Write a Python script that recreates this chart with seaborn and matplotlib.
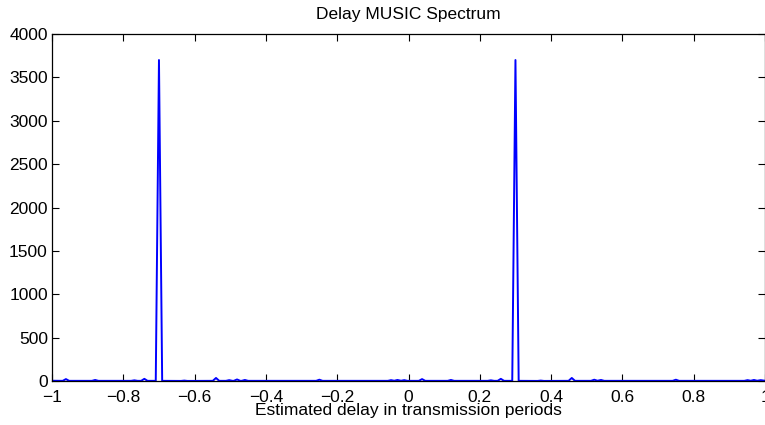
import matplotlib
matplotlib.use("Agg")
import matplotlib.pyplot as plt
import matplotlib.ticker as mticker
import pandas as pd
import seaborn as sns


# estimated delay (transmission periods) and spectrum value at each vertex
delay = [
    -1.000,
    -0.970, -0.961, -0.952,
    -0.888, -0.879, -0.870,
    -0.778, -0.769, -0.760,
    -0.750, -0.741, -0.732,
    -0.709, -0.700, -0.691,
    -0.638, -0.629, -0.620,
    -0.549, -0.540, -0.531,
    -0.512, -0.503, -0.494,
    -0.490, -0.481, -0.472,
    -0.468, -0.459, -0.450,
    -0.259, -0.250, -0.241,
    -0.058, -0.049, -0.040, -0.031, -0.021, -0.012, -0.003,
    0.029, 0.038, 0.047,
    0.110, 0.119, 0.128,
    0.222, 0.231, 0.240,
    0.250, 0.259, 0.268,
    0.291, 0.300, 0.309,
    0.362, 0.371, 0.380,
    0.449, 0.458, 0.467,
    0.512, 0.521, 0.530, 0.540, 0.549,
    0.741, 0.750, 0.759,
    0.942, 0.951, 0.960, 0.969, 0.978, 0.988, 1.000,
]
spectrum = [
    3,
    2, 22, 2,
    2, 12, 2,
    2, 8, 2,
    2, 25, 2,
    2, 3700, 2,
    1, 5, 1,
    2, 35, 2,
    2, 10, 2,
    2, 18, 2,
    2, 12, 2,
    2, 15, 2,
    2, 10, 3, 12, 3, 10, 2,
    2, 22, 2,
    2, 12, 2,
    2, 8, 2,
    2, 25, 2,
    2, 3700, 2,
    1, 5, 1,
    2, 35, 2,
    2, 15, 3, 12, 2,
    2, 15, 2,
    2, 10, 3, 12, 3, 10, 3,
]

x_ticks = [-1, -0.8, -0.6, -0.4, -0.2, 0, 0.2, 0.4, 0.6, 0.8, 1]
y_ticks = [0, 500, 1000, 1500, 2000, 2500, 3000, 3500, 4000]

FONT = 12.5

sns.set_theme(style="ticks")
plt.rcParams["font.family"] = ["Liberation Sans", "DejaVu Sans"]
plt.rcParams["font.size"] = FONT
plt.rcParams["text.color"] = "black"
plt.rcParams["axes.labelcolor"] = "black"
plt.rcParams["xtick.direction"] = "in"
plt.rcParams["ytick.direction"] = "in"

df = pd.DataFrame({"delay": delay, "spectrum": spectrum})

fig = plt.figure(figsize=(7.65, 4.25), dpi=100)
ax = fig.add_axes([0.068, 0.1035, 0.932, 0.8165])
sns.lineplot(data=df, x="delay", y="spectrum", color="#0000ff",
             linewidth=1.4, sort=False, ax=ax)

ax.set_xlim(-1, 1)
ax.set_ylim(0, 4000)
ax.set_xticks(x_ticks)
ax.set_yticks(y_ticks)
ax.xaxis.set_major_formatter(mticker.FuncFormatter(
    lambda v, p: ("%g" % v).replace("-", "\u2212")))
ax.tick_params(axis="both", which="both", top=True, right=True,
               length=5, width=0.8, labelsize=FONT, colors="black", pad=3)
ax.tick_params(axis="x", pad=6.5)
for s in ax.spines.values():
    s.set_linewidth(0.9)
    s.set_color("black")

ax.set_xlabel("Estimated delay in transmission periods", fontsize=FONT,
              labelpad=-1.5, color="black")
ax.set_ylabel("")
ax.set_title("Delay MUSIC Spectrum", fontsize=FONT, pad=11, color="black")

fig.savefig("out.png", dpi=100)
